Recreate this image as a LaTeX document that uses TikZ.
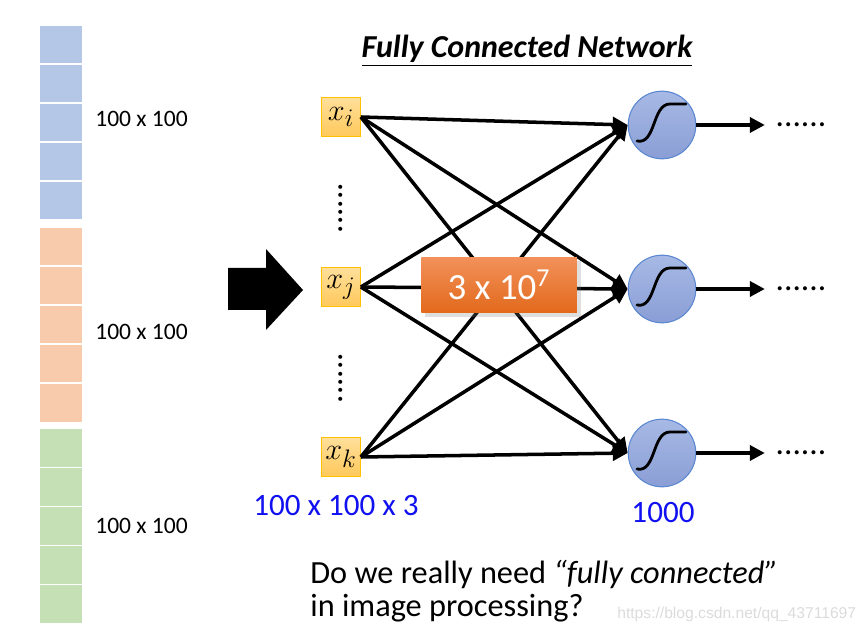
\documentclass[tikz,border=0pt]{standalone}
\usepackage{fontspec}
\setmainfont{Carlito}
\newfontfamily\wmfont{Liberation Sans}
\usepackage{tikz}
\usetikzlibrary{arrows.meta,shadows}
\definecolor{cellblue}{HTML}{B4C7E7}
\definecolor{cellorange}{HTML}{F8CBAD}
\definecolor{cellgreen}{HTML}{C5E0B4}
\definecolor{inptop}{HTML}{FFDF9A}
\definecolor{inpbot}{HTML}{FFC95C}
\definecolor{inpedge}{HTML}{FFC000}
\definecolor{neutop}{HTML}{A7B9E4}
\definecolor{neubot}{HTML}{8A9ED6}
\definecolor{neuedge}{HTML}{5B87D0}
\definecolor{boxtop}{HTML}{F2915A}
\definecolor{boxbot}{HTML}{E2691C}
\definecolor{labblue}{HTML}{1010F0}

\begin{document}
\begin{tikzpicture}[x=0.02cm,y=-0.02cm,>={Triangle[length=8.5pt,width=8.5pt]},
  inp/.style={draw=inpedge,line width=0.6pt,top color=inptop,bottom color=inpbot,
    minimum size=22pt,inner sep=0pt,font=\fontsize{19}{20}\selectfont},
  neuron/.style={circle,draw=neuedge,line width=0.6pt,top color=neutop,
    bottom color=neubot,minimum size=38.5pt,inner sep=0pt},
  main/.style={->,line width=2pt},
  sig/.style={line width=1.6pt,line cap=round},
  dots/.style={font=\fontsize{19}{20}\selectfont,inner sep=0pt},
  lbl/.style={font=\fontsize{13.4}{16}\selectfont,inner sep=0pt,anchor=west},
  blue/.style={font=\fontsize{17.7}{20}\selectfont,text=labblue,inner sep=0pt}]
  \useasboundingbox (0,0) rectangle (868,634);
  % image as three stacked channels
  \foreach \i in {0,...,4} {
    \fill[cellblue] (40,{26+\i*39}) rectangle (82,{63.5+\i*39});
    \fill[cellorange] (40,{228+\i*39}) rectangle (82,{265.5+\i*39});
    \fill[cellgreen] (40,{429+\i*39}) rectangle (82,{466.5+\i*39});
  }
  \node[lbl] (c1) at (95,119) {100 x 100};
  \node[lbl] (c2) at (95,332) {100 x 100};
  \node[lbl] (c3) at (95,526) {100 x 100};
  \fill (228,268) -- (266,268) -- (266,249) -- (303,290) -- (266,330)
    -- (266,310) -- (228,310) -- cycle;
  \node[font=\fontsize{18.2}{20}\selectfont\bfseries\itshape] (title) at (527,51)
    {\underline{Fully Connected Network}};
  % inputs and neurons
  \node[inp] (xi) at (341,117) {$x_i$};
  \node[inp] (xj) at (341,287) {$x_j$};
  \node[inp] (xk) at (341,457) {$x_k$};
  \node[dots,rotate=90] (v1) at (341,208) {......};
  \node[dots,rotate=90] (v2) at (341,378) {......};
  \node[neuron] (n1) at (662,125) {};
  \node[neuron] (n2) at (662,289) {};
  \node[neuron] (n3) at (662,453) {};
  \foreach \n in {n1,n2,n3}
    \draw[sig,shift={(\n)}] (-25,16) .. controls (-6,20) and (-10,-21) .. (8,-21) -- (24,-21);
  \node[dots,inner xsep=6pt] (d1) at (801,125) {......};
  \node[dots,inner xsep=6pt] (d2) at (801,289) {......};
  \node[dots,inner xsep=6pt] (d3) at (801,453) {......};
  \draw[main] (xi.east) -- (n1.west);
  \draw[main] (xi.east) -- (n2.west);
  \draw[main] (xi.east) -- (n3.west);
  \draw[main] (xj.east) -- (n1.west);
  \draw[main] (xj.east) -- (n2.west);
  \draw[main] (xj.east) -- (n3.west);
  \draw[main] (xk.east) -- (n1.west);
  \draw[main] (xk.east) -- (n2.west);
  \draw[main] (xk.east) -- (n3.west);
  \draw[main] (n1) -- (d1);
  \draw[main] (n2) -- (d2);
  \draw[main] (n3) -- (d3);
  \node[top color=boxtop,bottom color=boxbot,drop shadow={opacity=0.25},
    minimum width=88.5pt,minimum height=31.8pt,text=white,
    font=\fontsize{21}{24}\selectfont] (params) at (499,285) {3 x 10\textsuperscript{7}};
  \node[blue] (insize) at (336,506) {100 x 100 x 3};
  \node[blue] (outsize) at (663,513) {1000};
  \node[font=\fontsize{18.4}{18.7}\selectfont,align=left,anchor=west,inner sep=0pt]
    (question) at (310,591) {Do we really need \textit{``fully connected''}\\in image processing?};
  \node[font=\wmfont\fontsize{8.9}{10}\selectfont,text=black!14,anchor=west,inner sep=0pt]
    (wm) at (617,614) {https://blog.csdn.net/qq\_43711697};
\end{tikzpicture}
\end{document}
